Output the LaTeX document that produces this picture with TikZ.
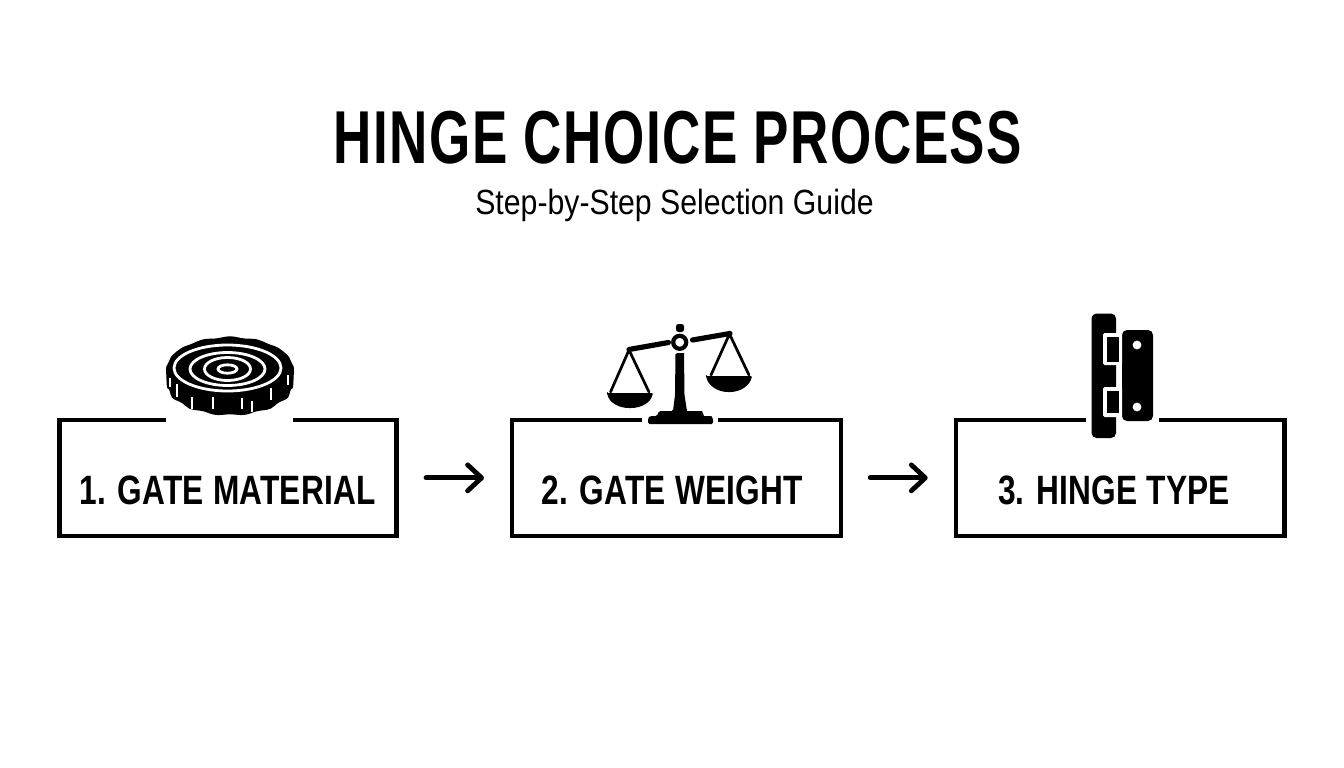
\documentclass[tikz,border=0pt]{standalone}
\usepackage{fontspec}
\setmainfont{Liberation Sans}
\newfontfamily\titlef[FakeStretch=0.707,LetterSpace=2]{Liberation Sans}
\newfontfamily\labf[FakeStretch=0.772,LetterSpace=0.5]{Liberation Sans}
\newfontfamily\subf[FakeStretch=0.864]{Liberation Sans}
\usetikzlibrary{arrows.meta}
\tikzset{
  stagebox/.style={draw=black,line width=4.4pt,fill=white,inner sep=0pt,outer sep=0pt,anchor=north west},
  steplabel/.style={anchor=base,inner sep=0pt,font=\labf\bfseries\fontsize{41}{41}\selectfont},
  flow/.style={draw=black,line width=4.8pt,line cap=round,-{Straight Barb[length=14pt,width=26pt,round,line width=4.8pt]},shorten <=29.5pt,shorten >=28pt},
  gap/.style={draw=white,line width=8pt},
  ink/.style={fill=black,draw=none},
  ringw/.style={draw=white,line width=2.8pt},
  tick/.style={draw=white,line width=2.2pt},
  cord/.style={draw=black,line width=2.7pt,line cap=round}
}
\begin{document}
\begin{tikzpicture}[x=1pt,y=-1pt]
\useasboundingbox (0,0) rectangle (1344,768);
\fill[white] (0,0) rectangle (1344,768);
\node[anchor=base,inner sep=0pt] (title) at (678,163) {\titlef\bfseries\fontsize{75}{75}\selectfont HINGE CHOICE PROCESS};
\node[anchor=base,inner sep=0pt] (subtitle) at (674.5,214) {\subf\fontsize{35}{35}\selectfont Step-by-Step Selection Guide};
\node[stagebox,minimum width=337pt,minimum height=116.3pt] (box1) at (59.5,419.7) {};
\node[stagebox,minimum width=328.7pt,minimum height=116.3pt] (box2) at (512,419.7) {};
\node[stagebox,minimum width=328.8pt,minimum height=116.3pt] (box3) at (955.7,419.7) {};
\node[steplabel] (lab1) at (227.5,504) {1. GATE MATERIAL};
\node[steplabel] (lab2) at (672,504) {2. GATE WEIGHT};
\node[steplabel] (lab3) at (1114,504) {3. HINGE TYPE};
\draw[flow] (box1.east) -- (box2.west);
\draw[flow] (box2.east) -- (box3.west);
% gaps
\draw[gap] (166,419.7) -- (293,419.7);
\draw[gap] (642,419.7) -- (718,419.7);
\draw[gap] (1086,419.7) -- (1159,419.7);
% wood disc
\fill[ink] plot[smooth cycle,samples=72,domain=0:355] ({230+(63+0.9*cos(14*\x))*cos(\x)},{(\x>0 && \x<180 ? 384 : 368)+31*sin(\x)+0.7*cos(14*\x)});
\draw[ringw] (227.5,368) ellipse (53.5 and 23);
\draw[ringw] (227.5,369) ellipse (37.5 and 16.5);
\draw[ringw] (227.5,369) ellipse (23 and 11.5);
\draw[ringw] (227.5,369) ellipse (9.5 and 4.2);
\foreach \a/\b/\c in {170/378/387,177/384/397,192/397/409,213/397/409,242/398/409,252/401/412,271/388/400,288/375/385}
  \draw[tick] (\a,\b) -- (\a,\c);
% scales
\fill[ink] (675.5,353) -- (684,353) -- (684.5,395) -- (687,411) -- (702,411) -- (704,416) -- (711,416) [rounded corners=1.5pt] -- (713,418) -- (713,424) -- (648,424) -- (648,418) -- (650,416) -- (657,416) -- (659,411) -- (673,411) -- (675,395) -- cycle;
\fill[ink,rounded corners=2.5pt] (676,332) -- (676,324) -- (684,324) -- (684,332) -- cycle;
\draw[black,line width=5.2pt,line cap=round] (629,349.5) -- (668.5,342.5);
\draw[black,line width=5.2pt,line cap=round] (692.5,340) -- (730,333.5);
\draw[black,line width=4.2pt] (679.7,342.3) circle (6.5);
\draw[cord] (610.5,392) -- (629,350) -- (649,392);
\draw[cord] (711,375) -- (729.5,334) -- (749,375);
\fill[ink,rounded corners=1pt] (607,393) -- (653,393) .. controls (651,403) and (641,408) .. (630,408) .. controls (619,408) and (609,403) .. (607,393) -- cycle;
\fill[ink,rounded corners=1pt] (706,376) -- (752,376) .. controls (750,386) and (740,392) .. (729,392) .. controls (718,392) and (708,386) .. (706,376) -- cycle;
% hinge
\fill[ink,rounded corners=5pt] (1091.5,313.5) rectangle (1116,438);
\fill[ink,rounded corners=5pt] (1122,330) rectangle (1153,421);
\fill[white,rounded corners=1.5pt] (1103,333) rectangle (1122,365);
\fill[white,rounded corners=1.5pt] (1103,387) rectangle (1122,417);
\fill[ink] (1107,337) rectangle (1119,362);
\fill[ink] (1107,391) rectangle (1119,413);
\fill[white] (1137,345) circle (4.4);
\fill[white] (1137,407) circle (4.4);
\end{tikzpicture}
\end{document}
